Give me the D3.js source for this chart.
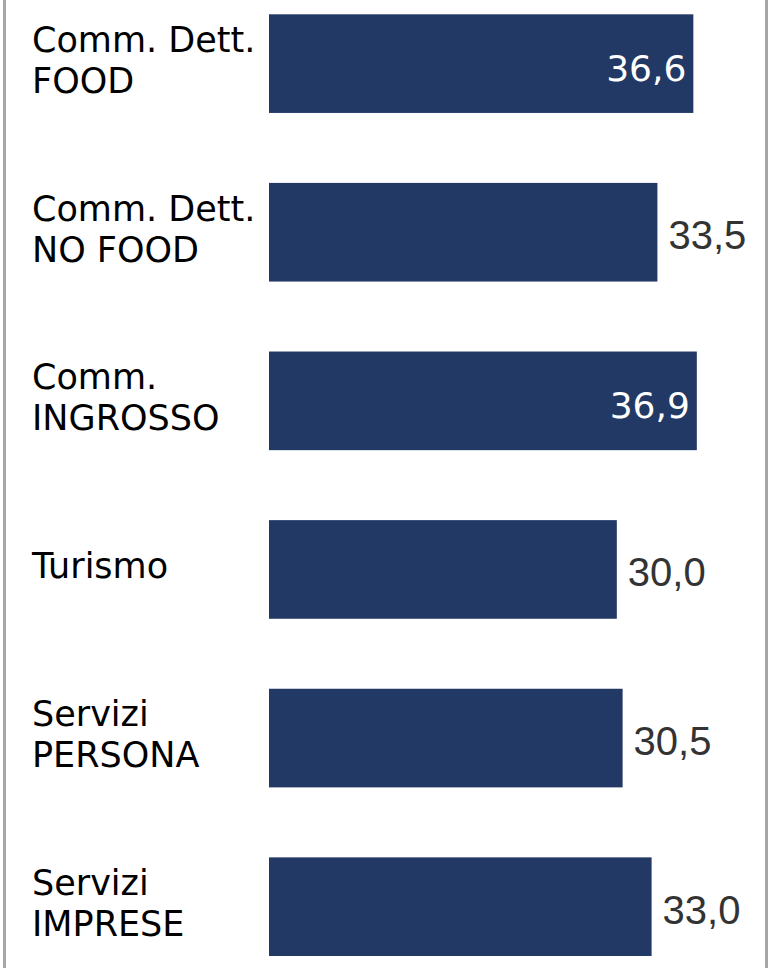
<!DOCTYPE html>
<html>
<head>
<meta charset="utf-8">
<script src="https://cdn.jsdelivr.net/npm/d3@7"></script>
<style>
  html, body { margin: 0; padding: 0; background: #ffffff; }
  svg { display: block; }
</style>
</head>
<body>
<svg id="chart" width="776" height="968"></svg>
<script>
// ---- data ----
const categories = [
  "Comm. Dett.\nFOOD",
  "Comm. Dett.\nNO FOOD",
  "Comm.\nINGROSSO",
  "Turismo",
  "Servizi\nPERSONA",
  "Servizi\nIMPRESE"
];
const values = [36.6, 33.5, 36.9, 30.0, 30.5, 33.0];
const valueLabels = ["36,6", "33,5", "36,9", "30,0", "30,5", "33,0"];

// ---- layout ----
const W = 776, H = 968;
const barColor = "#223865";
const svg = d3.select("#chart");

// frame lines (left and right)
svg.append("rect").attr("x", 3).attr("y", 0).attr("width", 3).attr("height", H).attr("fill", "#a6a6a6");
svg.append("rect").attr("x", 765).attr("y", 0).attr("width", 3).attr("height", H).attr("fill", "#a6a6a6");

const x = d3.scaleLinear().domain([0, 40]).range([269, 269 + 40 * 11.594]);
const y = d3.scaleBand().domain(categories).range([14.3, 956]).paddingInner(0.415).paddingOuter(0);

const data = categories.map((c, i) => ({ cat: c, v: values[i], lab: valueLabels[i] }));

// bars
svg.append("g").selectAll("rect").data(data).join("rect")
  .attr("x", x(0))
  .attr("y", d => y(d.cat))
  .attr("width", d => x(d.v) - x(0))
  .attr("height", y.bandwidth())
  .attr("fill", barColor);

// category labels
const catFont = 35, lineH = 41;
const cg = svg.append("g");
data.forEach(d => {
  const lines = d.cat.split("\n");
  const cy = y(d.cat) + y.bandwidth() / 2 - 4;
  const capH = catFont * 0.73;
  const blockH = (lines.length - 1) * lineH + capH;
  const firstBase = cy - blockH / 2 + capH;
  const t = cg.append("text")
    .attr("font-family", "'DejaVu Sans', sans-serif")
    .attr("font-size", catFont)
    .attr("fill", "#000000");
  lines.forEach((ln, j) => {
    t.append("tspan").attr("x", 32).attr("y", firstBase + j * lineH).text(ln);
  });
});

// value labels
const labW = 80;
svg.append("g").selectAll("text").data(data).join("text")
  .each(function (d) {
    const end = x(d.v);
    const inside = end + 12 + labW > 762;
    const sel = d3.select(this)
      .attr("y", y(d.cat) + y.bandwidth() / 2 + 17)
      .text(d.lab);
    if (inside) {
      sel.attr("x", end - 7)
        .attr("text-anchor", "end")
        .attr("font-family", "'DejaVu Sans', sans-serif")
        .attr("font-size", 36)
        .attr("fill", "#ffffff");
    } else {
      sel.attr("x", end + 11)
        .attr("text-anchor", "start")
        .attr("font-family", "'Liberation Sans', Arial, sans-serif")
        .attr("font-size", 40)
        .attr("fill", "#333333");
    }
  });
</script>
</body>
</html>
